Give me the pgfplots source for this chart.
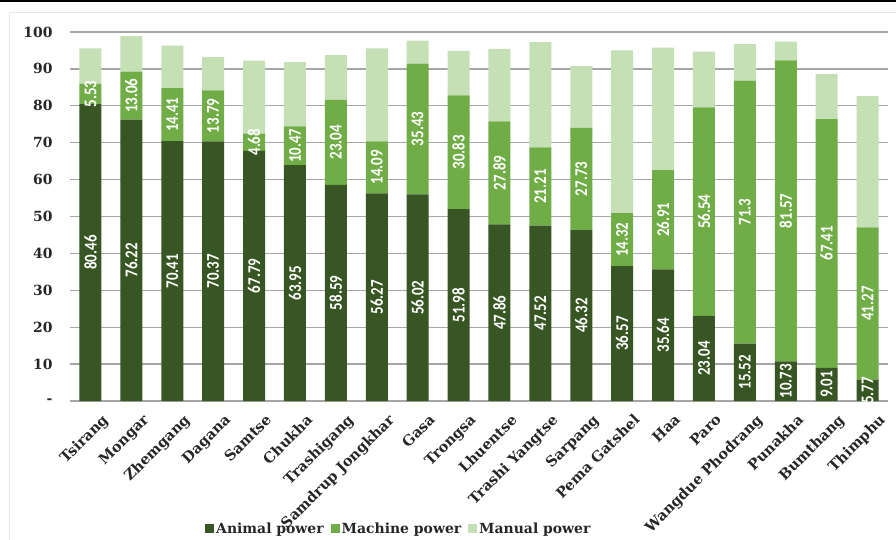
\documentclass[border=0pt]{standalone}
\usepackage{pgfplots}
\pgfplotsset{compat=1.18}
\usepackage{pgfplotstable}
\usepackage{fontspec}
\setmainfont{DejaVu Serif}
\newfontfamily\labelfont{Carlito}

\definecolor{animal}{HTML}{375623}
\definecolor{machine}{HTML}{70AD47}
\definecolor{manual}{HTML}{C5E0B4}
\definecolor{gridgray}{HTML}{A6A6A6}

% Share of farm power source by district (%)
\pgfplotstableread{
idx animal machine manual
0  80.46  5.53  9.6
1  76.22 13.06  9.6
2  70.41 14.41 11.5
3  70.37 13.79  9.0
4  67.79  4.68 19.8
5  63.95 10.47 17.4
6  58.59 23.04 12.1
7  56.27 14.09 25.2
8  56.02 35.43  6.2
9  51.98 30.83 12.1
10 47.86 27.89 19.7
11 47.52 21.21 28.5
12 46.32 27.73 16.8
13 36.57 14.32 44.1
14 35.64 26.91 33.2
15 23.04 56.54 15.1
16 15.52 71.3   9.9
17 10.73 81.57  5.1
18  9.01 67.41 12.2
19  5.77 41.27 35.6
}\powerdata

\pgfplotsset{
  panel/.style={
    scale only axis, width=818bp, height=369bp,
    xmin=-0.5, xmax=19.5, ymin=0, ymax=100,
    at={(0,0)}, anchor=south west,
  }
}

\begin{document}
\begin{tikzpicture}
\useasboundingbox (-70bp,-139bp) rectangle (826bp,401bp);
\fill[white] (-70bp,-139bp) rectangle (826bp,401bp);
\draw[black!9, line width=1bp] (-60bp,-139bp) -- (-60bp,388bp) -- (826bp,388bp);
\draw[black, line width=1.6bp] (-70bp,400.2bp) -- (826bp,400.2bp);

\begin{axis}[panel,
  ybar stacked, bar width=22bp,
  axis line style={draw=none},
  tick style={draw=none},
  ytick={10,20,...,100},
  ymajorgrids, major grid style={gridgray, line width=1.3bp},
  extra y ticks={0}, extra y tick labels={-},
  extra y tick style={grid style={black!15, line width=1bp}},
  /pgf/number format/assume math mode=true,
  yticklabel style={font=\bfseries\fontsize{14}{14}\selectfont, text=black!85, xshift=-14bp},
  xtick={0,...,19},
  xticklabels={Tsirang, Mongar, Zhemgang, Dagana, Samtse, Chukha, Trashigang,
    Samdrup Jongkhar, Gasa, Trongsa, Lhuentse, Trashi Yangtse, Sarpang,
    Pema Gatshel, Haa, Paro, Wangdue Phodrang, Punakha, Bumthang, Thimphu},
  xticklabel style={font=\bfseries\fontsize{14.5}{14.5}\selectfont, text=black!85,
    rotate=45, anchor=north east, inner sep=1bp, xshift=0bp, yshift=-15bp},
  legend columns=-1,
  legend style={at={(0.402,-0.346)}, anchor=center, draw=none, fill=none,
    font=\bfseries\fontsize{14}{14}\selectfont, text=black!85,
    /tikz/every even column/.append style={column sep=5bp}},
  legend image code/.code={\fill[#1, draw=none] (0bp,-4bp) rectangle (9bp,4.5bp);},
]
\addplot[fill=animal, draw=none] table[x=idx, y=animal] {\powerdata};
\addlegendentry{Animal power}
\addplot[fill=machine, draw=none] table[x=idx, y=machine] {\powerdata};
\addlegendentry{Machine power}
\addplot[fill=manual, draw=none] table[x=idx, y=manual] {\powerdata};
\addlegendentry{Manual power}
\end{axis}

% value labels centred in the animal and machine segments
\begin{axis}[panel, hide axis,
  nodes near coords, point meta=explicit symbolic,
  nodes near coords style={font=\labelfont\bfseries\fontsize{15}{15}\selectfont,
    text=white, xscale=1.2, rotate=90, anchor=center, inner sep=0pt},
]
\addplot[draw=none, mark=none] table[x=idx, y expr=\thisrow{animal}/2, meta=animal] {\powerdata};
\addplot[draw=none, mark=none] table[x=idx, y expr=\thisrow{animal}+\thisrow{machine}/2, meta=machine] {\powerdata};
\end{axis}
\end{tikzpicture}
\end{document}
